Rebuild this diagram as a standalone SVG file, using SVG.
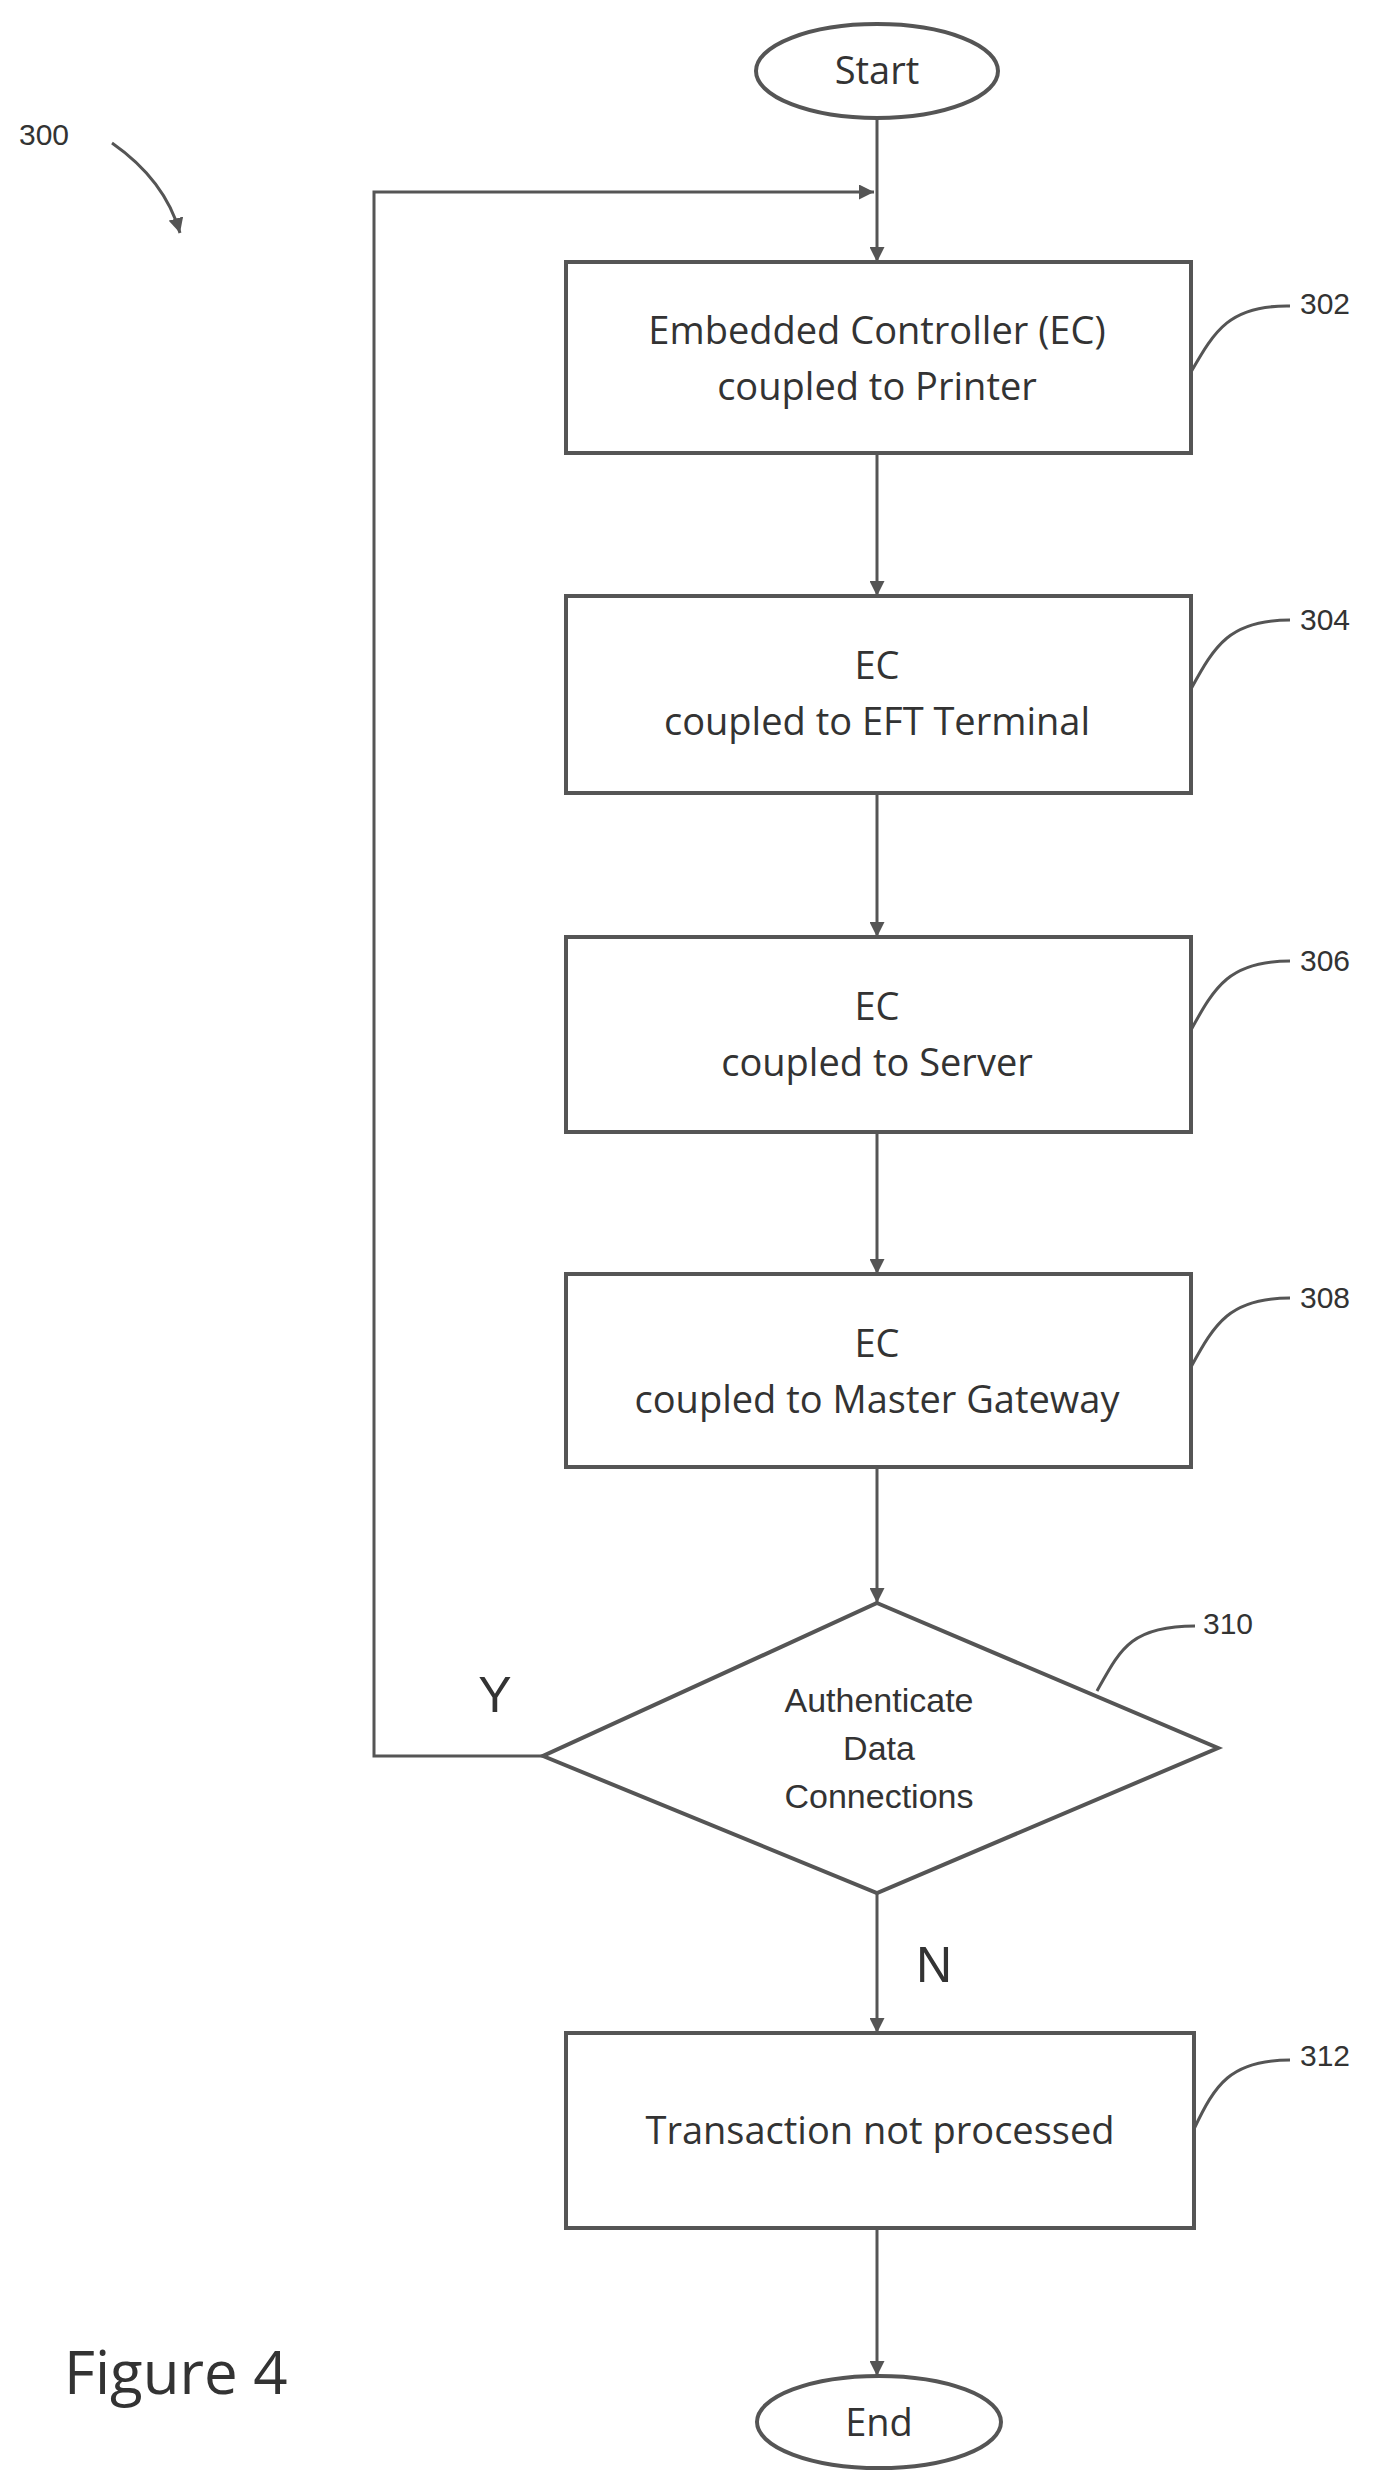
<svg xmlns="http://www.w3.org/2000/svg" width="1374" height="2486" viewBox="0 0 1374 2486">
<style>
.s{fill:none;stroke:#555;stroke-width:3}
.b{fill:#fff;stroke:#555;stroke-width:4}
.t{font-family:"Open Sans","Liberation Sans",sans-serif;fill:#333;text-anchor:middle;font-size:38px}
.a{font-family:"Liberation Sans",Arial,sans-serif;fill:#333;text-anchor:middle;font-size:34px}
.n{font-family:"Liberation Sans",sans-serif;fill:#333;font-size:30px}
</style>
<defs><marker id="ar" viewBox="0 0 10 10" refX="10" refY="5" markerWidth="5" markerHeight="5" orient="auto"><path d="M0,0L10,5L0,10z" fill="#555"/></marker></defs>
<rect width="1374" height="2486" fill="#fff"/>
<g id="connectors">
<path class="s" d="M877,119V262" marker-end="url(#ar)"/>
<path class="s" d="M543,1756H374V192H874" marker-end="url(#ar)"/>
<path class="s" d="M877,453V596" marker-end="url(#ar)"/>
<path class="s" d="M877,793V937" marker-end="url(#ar)"/>
<path class="s" d="M877,1132V1274" marker-end="url(#ar)"/>
<path class="s" d="M877,1467V1603" marker-end="url(#ar)"/>
<path class="s" d="M877,1893V2033" marker-end="url(#ar)"/>
<path class="s" d="M877,2228V2376" marker-end="url(#ar)"/>
<path class="s" d="M112,143Q165,180 180,233" marker-end="url(#ar)"/>
<path class="s" d="M1191,372C1215,330 1230,305 1290,306"/>
<path class="s" d="M1191,689C1215,645 1230,620 1290,620"/>
<path class="s" d="M1191,1030C1215,986 1230,961 1290,961"/>
<path class="s" d="M1191,1367C1215,1323 1230,1298 1290,1298"/>
<path class="s" d="M1097,1691C1120,1650 1130,1626 1195,1626"/>
<path class="s" d="M1194,2129C1215,2085 1230,2060 1290,2060"/>
</g>
<text class="n" x="19" y="145">300</text>
<g id="start"><ellipse class="b" cx="877" cy="71" rx="121" ry="47"/><text class="t" x="877" y="84">Start</text></g>
<g id="n302"><rect class="b" x="566" y="262" width="625" height="191"/><text class="t" x="877" y="344">Embedded Controller (EC)</text><text class="t" x="877" y="400">coupled to Printer</text><text class="n" x="1300" y="314">302</text></g>
<g id="n304"><rect class="b" x="566" y="596" width="625" height="197"/><text class="t" x="877" y="679">EC</text><text class="t" x="877" y="735">coupled to EFT Terminal</text><text class="n" x="1300" y="630">304</text></g>
<g id="n306"><rect class="b" x="566" y="937" width="625" height="195"/><text class="t" x="877" y="1020">EC</text><text class="t" x="877" y="1076">coupled to Server</text><text class="n" x="1300" y="971">306</text></g>
<g id="n308"><rect class="b" x="566" y="1274" width="625" height="193"/><text class="t" x="877" y="1357">EC</text><text class="t" x="877" y="1413">coupled to Master Gateway</text><text class="n" x="1300" y="1308">308</text></g>
<g id="n310"><path class="b" d="M877,1603L1218,1748L877,1893L543,1756Z"/><text class="a" x="879" y="1712">Authenticate</text><text class="a" x="879" y="1760">Data</text><text class="a" x="879" y="1808">Connections</text><text class="n" x="1203" y="1634">310</text></g>
<text x="495" y="1712" font-family="Liberation Sans,sans-serif" font-size="50" fill="#333" text-anchor="middle">Y</text>
<text x="934" y="1982" font-family="Liberation Sans,sans-serif" font-size="50" fill="#333" text-anchor="middle">N</text>
<g id="n312"><rect class="b" x="566" y="2033" width="628" height="195"/><text class="t" x="880" y="2144">Transaction not processed</text><text class="n" x="1300" y="2066">312</text></g>
<g id="end"><ellipse class="b" cx="879" cy="2422" rx="122" ry="46"/><text class="t" x="879" y="2436">End</text></g>
<text x="64" y="2394" font-family="Open Sans,Liberation Sans,sans-serif" font-size="60" fill="#333">Figure 4</text>
</svg>
